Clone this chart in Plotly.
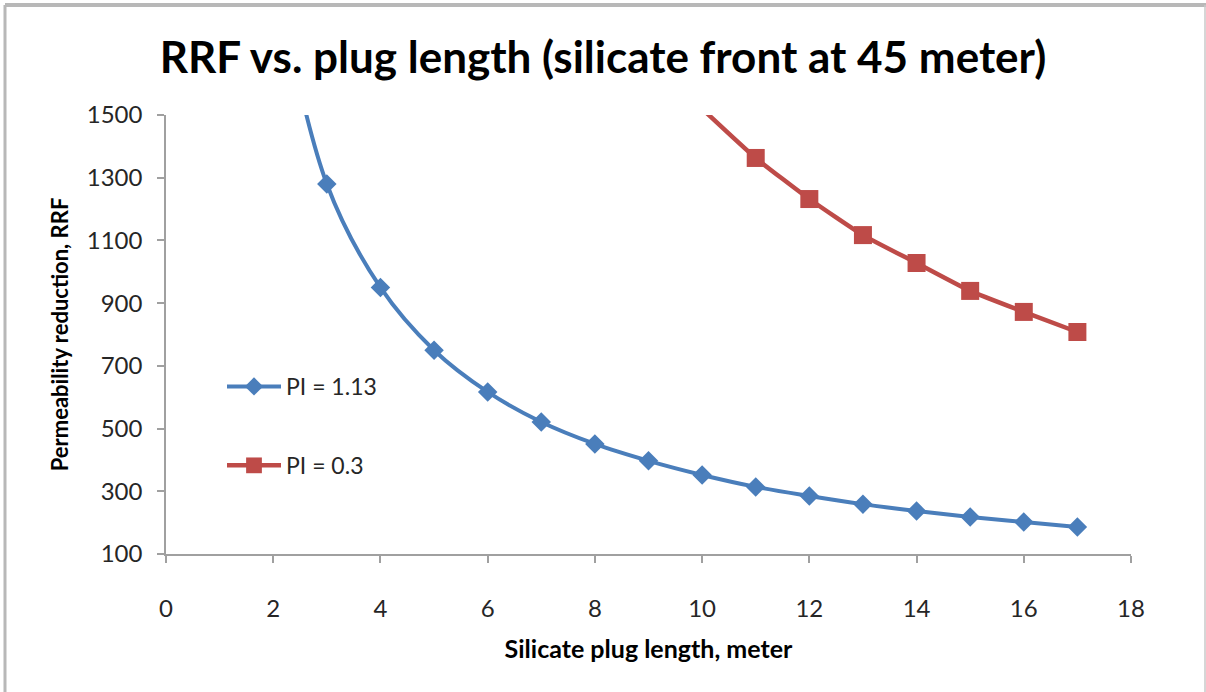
import plotly.graph_objects as go

# ---- data ----
x_pi113 = [2, 3, 4, 5, 6, 7, 8, 9, 10, 11, 12, 13, 14, 15, 16, 17]
rrf_pi113 = [1990, 1280, 950, 750, 617, 521, 451, 397, 352, 314, 285, 259, 237, 218, 202, 186]

x_pi03 = [10, 11, 12, 13, 14, 15, 16, 17]
rrf_pi03 = [1520, 1363, 1232, 1117, 1028, 939, 872, 808]

x_ticks = [0, 2, 4, 6, 8, 10, 12, 14, 16, 18]
y_ticks = [100, 300, 500, 700, 900, 1100, 1300, 1500]

Y_MAX = 1500
BLUE = "#4A7EBB"
RED = "#BE4B48"
FONT = "Lato"

W, H = 1206, 692
ML, MR, MT, MB = 166, 75, 115, 138
PW, PH = W - ML - MR, H - MT - MB


def px_x(X):
    return (X - ML) / PW


def px_y(Y):
    return (H - MB - Y) / PH


fig = go.Figure()
fig.add_trace(go.Scatter(
    x=x_pi113, y=rrf_pi113, name="PI = 1.13", legendgroup="a",
    mode="lines+markers",
    line=dict(color=BLUE, width=4, shape="spline", smoothing=1),
    marker=dict(symbol="diamond", color=BLUE, opacity=1, line=dict(width=0),
                size=[15 if v <= Y_MAX else 0 for v in rrf_pi113]),
))
fig.add_trace(go.Scatter(
    x=x_pi03, y=rrf_pi03, name="PI = 0.3", legendgroup="b",
    mode="lines+markers",
    line=dict(color=RED, width=4.5, shape="spline", smoothing=0.5),
    marker=dict(symbol="square", color=RED, opacity=1, line=dict(width=0),
                size=[18 if v <= Y_MAX else 0 for v in rrf_pi03]),
))

axis_common = dict(
    showgrid=False, zeroline=False, showline=True, linecolor="#a0a0a0", linewidth=1.5,
    ticks="outside", ticklen=7, tickcolor="#a0a0a0", tickwidth=1.5,
    tickfont=dict(family=FONT, size=24, color="#262626"),
)

fig.update_layout(
    width=W, height=H,
    margin=dict(l=ML, r=MR, t=MT, b=MB),
    paper_bgcolor="white", plot_bgcolor="white",
    title=dict(text="<b>RRF vs. plug length (silicate front at 45 meter)</b>",
               x=0.5, xanchor="center", y=1 - 58 / H, yanchor="middle",
               font=dict(family=FONT, size=44, color="black")),
    xaxis=dict(range=[0, 18], tickvals=x_ticks, ticktext=[str(v) for v in x_ticks],
               ticklabelstandoff=25,
               title=dict(text="<b>Silicate plug length, meter</b>", standoff=20,
                          font=dict(family=FONT, size=25, color="black")),
               **axis_common),
    yaxis=dict(range=[100, 1500], tickvals=y_ticks, ticktext=[str(v) for v in y_ticks],
               ticklabelstandoff=10,
               title=dict(text="<b>Permeability reduction, RRF</b>", standoff=12,
                          font=dict(family=FONT, size=22, color="black")),
               **axis_common),
    legend=dict(x=px_x(222), y=px_y(365), xanchor="left", yanchor="top",
                bgcolor="rgba(0,0,0,0)", tracegroupgap=46, itemwidth=54,
                font=dict(family=FONT, size=23, color="#262626")),
    showlegend=True,
    shapes=[
        dict(type="line", xref="paper", yref="paper", x0=px_x(5), x1=px_x(5),
             y0=px_y(5), y1=px_y(H + 5), line=dict(color="#b8b8b8", width=3)),
        dict(type="line", xref="paper", yref="paper", x0=px_x(5), x1=px_x(W + 5),
             y0=px_y(5), y1=px_y(5), line=dict(color="#b8b8b8", width=4)),
        dict(type="line", xref="paper", yref="paper", x0=px_x(1205), x1=px_x(1205),
             y0=px_y(5), y1=px_y(H + 5), line=dict(color="#c8c8c8", width=1.5)),
    ],
)

fig.write_html("out.html")
